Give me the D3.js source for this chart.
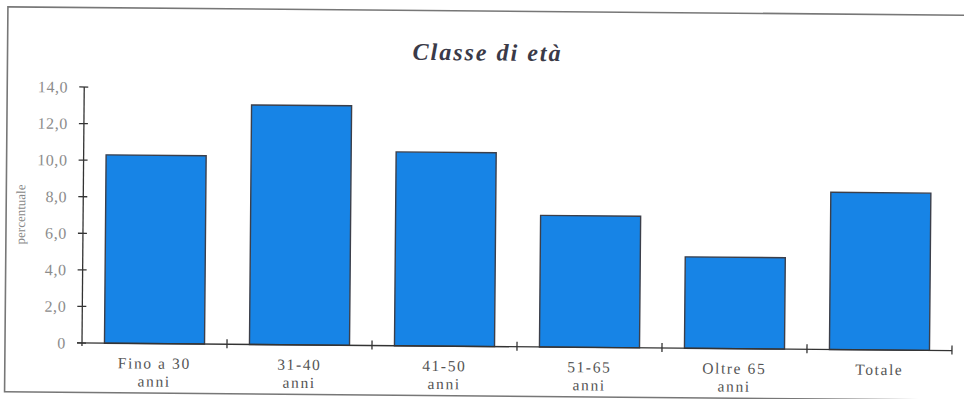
<!DOCTYPE html>
<html>
<head>
<meta charset="utf-8">
<script src="https://cdn.jsdelivr.net/npm/d3@7/dist/d3.min.js"></script>
<style>
  html, body { margin: 0; padding: 0; background: #fff; }
  svg { display: block; }
</style>
</head>
<body>
<svg id="chart" width="964" height="399"></svg>
<script>
// Age classes and their share (percent)
const categories = [["Fino a 30", "anni"], ["31-40", "anni"], ["41-50", "anni"], ["51-65", "anni"], ["Oltre 65", "anni"], ["Totale"]];
const values = [10.3, 13.1, 10.6, 7.2, 5.0, 8.6];
const yTicks = [0, 2, 4, 6, 8, 10, 12, 14];
const title = "Classe di età";
const yLabel = "percentuale";

const SERIF = "'Liberation Serif', 'DejaVu Serif', serif";
const svg = d3.select("#chart");
const ox = 82, oy = 343, xEnd = 952, yTop = 87;

// The whole page is tilted slightly, like a scanned sheet
const g = svg.append("g").attr("transform", `rotate(0.5, ${ox}, ${oy})`);

// frame
g.append("rect")
  .attr("x", 5).attr("y", 7.5).attr("width", 975).attr("height", 385)
  .attr("fill", "none").attr("stroke", "#777").attr("stroke-width", 1.6);

g.append("text")
  .attr("x", 485).attr("y", 57)
  .attr("text-anchor", "middle")
  .style("font-family", SERIF)
  .attr("font-size", 24).attr("font-weight", "bold").attr("font-style", "italic")
  .attr("letter-spacing", 2)
  .attr("fill", "#3a3a48")
  .text(title);

const x = d3.scaleBand()
  .domain(d3.range(categories.length))
  .range([ox, xEnd])
  .paddingInner(0.31).paddingOuter(0.155);

const y = d3.scaleLinear().domain([0, 14]).range([oy, yTop]);

// bars
g.selectAll("rect.bar")
  .data(values)
  .join("rect")
  .attr("class", "bar")
  .attr("x", (d, i) => x(i))
  .attr("y", d => y(d))
  .attr("width", x.bandwidth())
  .attr("height", d => y(0) - y(d))
  .attr("fill", "#1784e6")
  .attr("stroke", "#3c3f4a")
  .attr("stroke-width", 1.4);

// y axis
const yAxis = d3.axisLeft(y)
  .tickValues(yTicks)
  .tickSize(0)
  .tickPadding(16)
  .tickFormat(d => d === 0 ? "0" : d3.format(".1f")(d).replace(".", ","));
const ya = g.append("g").attr("transform", `translate(${ox},0)`).call(yAxis);
ya.select(".domain").remove();
ya.selectAll("text")
  .attr("font-size", 16).attr("fill", "#8c8c8c")
  .attr("letter-spacing", 0.6)
  .style("font-family", SERIF);
g.append("line")
  .attr("x1", ox).attr("x2", ox).attr("y1", yTop).attr("y2", oy + 3)
  .attr("stroke", "#333").attr("stroke-width", 1.3);
g.selectAll("line.ytick")
  .data(yTicks)
  .join("line")
  .attr("class", "ytick")
  .attr("x1", ox - 5).attr("x2", ox + 4)
  .attr("y1", d => y(d)).attr("y2", d => y(d))
  .attr("stroke", "#333").attr("stroke-width", 1.3);

// x axis with boundary ticks between categories
g.append("line")
  .attr("x1", ox - 5).attr("x2", xEnd)
  .attr("y1", oy).attr("y2", oy)
  .attr("stroke", "#333").attr("stroke-width", 1.3);
const bounds = d3.range(1, categories.length + 1).map(i => ox + i * x.step());
g.selectAll("line.xtick")
  .data(bounds)
  .join("line")
  .attr("class", "xtick")
  .attr("x1", d => d).attr("x2", d => d)
  .attr("y1", oy - 5).attr("y2", oy + 4)
  .attr("stroke", "#333").attr("stroke-width", 1.3);

// category labels, one text element per line
const catLines = categories.flatMap((lines, i) => lines.map((s, k) => ({ s, i, k })));
g.selectAll("text.cat")
  .data(catLines)
  .join("text")
  .attr("class", "cat")
  .attr("text-anchor", "middle")
  .attr("x", d => x(d.i) + x.bandwidth() / 2)
  .attr("y", d => oy + 25 + d.k * 18)
  .style("font-family", SERIF)
  .attr("font-size", 15.5)
  .attr("letter-spacing", 1.6)
  .attr("fill", "#555")
  .text(d => d.s);

// y label
g.append("text")
  .attr("transform", `translate(24, 215) rotate(-90)`)
  .attr("text-anchor", "middle")
  .style("font-family", SERIF)
  .attr("font-size", 13)
  .attr("fill", "#888")
  .text(yLabel);
</script>
</body>
</html>
